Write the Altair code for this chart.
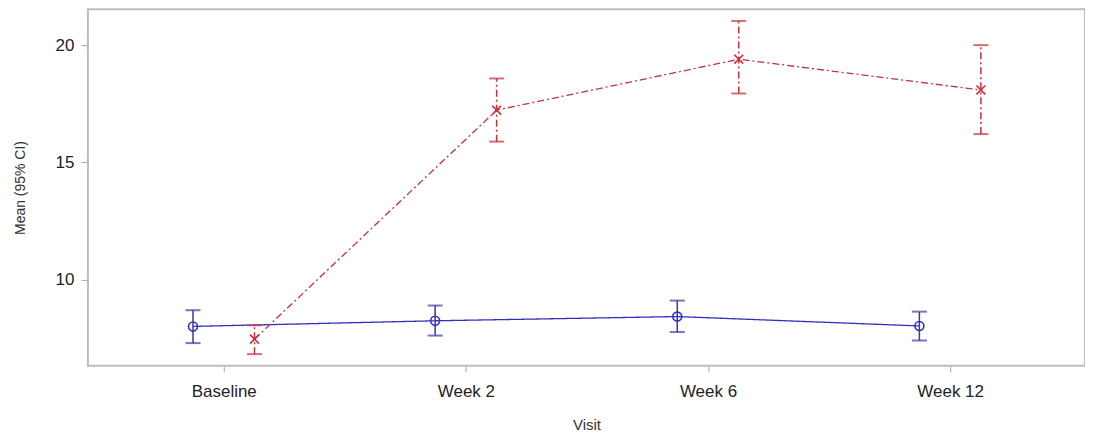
import altair as alt
import pandas as pd

visits = ["Baseline", "Week 2", "Week 6", "Week 12"]
blue_mean = [8.02, 8.26, 8.44, 8.04]
blue_lo = [7.31, 7.63, 7.78, 7.42]
blue_hi = [8.71, 8.91, 9.12, 8.65]
red_mean = [7.48, 17.23, 19.40, 18.09]
red_lo = [6.84, 15.89, 17.94, 16.21]
red_hi = [8.07, 18.58, 21.03, 20.00]

OFF = 0.127
blue_df = pd.DataFrame({"visit": visits, "x": [i - OFF for i in range(4)],
                        "mean": blue_mean, "lo": blue_lo, "hi": blue_hi})
red_df = pd.DataFrame({"visit": visits, "x": [i + OFF for i in range(4)],
                       "mean": red_mean, "lo": red_lo, "hi": red_hi})

FONT = "Liberation Sans"
label_expr = "['Baseline','Week 2','Week 6','Week 12'][round(datum.value)]"

xenc = alt.X("x:Q", scale=alt.Scale(domain=[-0.561, 3.557], nice=False, zero=False),
             axis=alt.Axis(values=[0, 1, 2, 3], labelExpr=label_expr, title="Visit",
                           grid=False, domain=False, tickSize=6, tickColor="#aaaaaa",
                           labelFontSize=17, labelColor="#222222", titleFontSize=15,
                           titleFontWeight="normal", titleColor="#333333", labelPadding=12,
                           titlePadding=18, labelFont=FONT, titleFont=FONT))
yscale = alt.Scale(domain=[6.34, 21.53], nice=False, zero=False)
yaxis = alt.Axis(values=[10, 15, 20], title="Mean (95% CI)", grid=False, domain=False,
                 tickSize=7, tickColor="#aaaaaa", labelFontSize=17, labelColor="#222222",
                 titleFontSize=14, titleFontWeight="normal", titleColor="#333333",
                 labelPadding=7, titlePadding=28, labelFont=FONT, titleFont=FONT)

BLUE = "#3030c0"
BLUE_D = "#3a3a9c"
RED = "#c8303a"
DASH = [7, 3, 2, 3]

cross = "M-1,-1L1,1M-1,1L1,-1"


def series(df, color, capcolor, dash, shape, size):
    base = alt.Chart(df)
    line = base.mark_line(color=color, strokeWidth=1.3, strokeDash=dash).encode(
        x=xenc, y=alt.Y("mean:Q", scale=yscale, axis=yaxis))
    rule = base.mark_rule(color=capcolor, strokeWidth=1.5, strokeDash=dash).encode(
        x="x:Q", y="lo:Q", y2="hi:Q")
    cap_lo = base.mark_tick(color=capcolor, orient="horizontal", size=15, thickness=2).encode(
        x="x:Q", y="lo:Q")
    cap_hi = base.mark_tick(color=capcolor, orient="horizontal", size=15, thickness=2).encode(
        x="x:Q", y="hi:Q")
    pt = base.mark_point(shape=shape, filled=False, color=color, size=size, strokeWidth=1.6,
                         opacity=1).encode(x="x:Q", y="mean:Q")
    return [line, rule, cap_lo, cap_hi, pt]


layers = series(blue_df, BLUE, BLUE_D, [1, 0], "circle", 80) + \
         series(red_df, RED, RED, DASH, cross, 80)

chart = alt.layer(*layers).properties(
    width=998, height=357,
    autosize=alt.AutoSizeParams(type="none"),
    padding={"left": 80, "top": 1, "right": 0, "bottom": 70},
    background="white",
).configure_view(stroke="#bdbdbd", strokeWidth=2)

chart.save("out.html", embed_options={"renderer": "svg", "actions": False})
